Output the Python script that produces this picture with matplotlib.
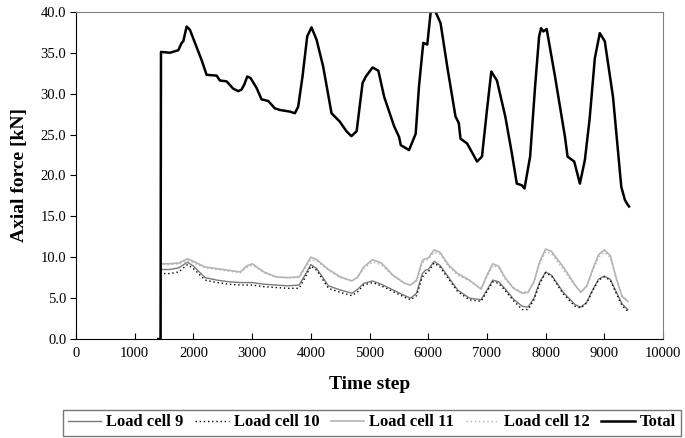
import matplotlib
matplotlib.use("Agg")
import matplotlib.pyplot as plt
from matplotlib.ticker import FormatStrFormatter

# Total axial force
total_x = [1400, 1440, 1447, 1600, 1742, 1799, 1827, 1884, 1940, 2026, 2139, 2224,
           2395, 2451, 2565, 2678, 2763, 2820, 2865, 2917, 2973, 3075, 3160, 3274,
           3387, 3472, 3643, 3728, 3784, 3858, 3938, 4011, 4097, 4210, 4352, 4490,
           4607, 4690, 4780, 4881, 4938, 5051, 5150, 5249, 5419, 5503, 5532, 5673,
           5786, 5842, 5915, 5983, 6040, 6100, 6210, 6330, 6464, 6520, 6549, 6662,
           6831, 6915, 7000, 7074, 7170, 7312, 7424, 7508, 7593, 7639, 7735, 7820,
           7888, 7922, 7960, 8017, 8159, 8329, 8373, 8486, 8583, 8668, 8750, 8837,
           8922, 9007, 9147, 9288, 9350, 9400, 9420]
total_y = [0, 0, 35.1, 35.0, 35.3, 36.2, 36.4, 38.2, 37.8, 36.2, 34.1, 32.3,
           32.2, 31.6, 31.5, 30.6, 30.3, 30.5, 31.1, 32.1, 31.9, 30.7, 29.3, 29.1,
           28.2, 28.0, 27.8, 27.6, 28.4, 32.1, 37.0, 38.1, 36.6, 33.3, 27.6, 26.6,
           25.4, 24.8, 25.4, 31.3, 32.1, 33.2, 32.8, 29.6, 26.0, 24.7, 23.7, 23.1,
           25.1, 30.9, 36.2, 36.0, 39.9, 40.4, 38.6, 33.0, 27.2, 26.4, 24.5, 23.9,
           21.7, 22.3, 28.0, 32.7, 31.6, 27.2, 22.7, 19.0, 18.8, 18.4, 22.3, 30.9,
           37.0, 38.0, 37.6, 37.9, 32.1, 24.7, 22.3, 21.7, 19.0, 21.9, 27.0, 34.3,
           37.4, 36.4, 29.6, 18.6, 17.0, 16.4, 16.2]

# Individual load cells
lc_x = [1400, 1440, 1447, 1600, 1750, 1900, 2000, 2200, 2400, 2600, 2800, 2900,
        3000, 3100, 3200, 3400, 3600, 3800, 3900, 4000, 4100, 4300, 4500, 4700,
        4800, 4900, 5050, 5200, 5400, 5600, 5700, 5800, 5900, 5950, 6000, 6100,
        6200, 6350, 6500, 6700, 6900, 7000, 7100, 7200, 7300, 7450, 7600, 7700,
        7800, 7900, 8000, 8100, 8300, 8500, 8600, 8700, 8800, 8900, 9000, 9100,
        9200, 9300, 9400]
lc9 = [0, 0, 8.5, 8.5, 8.7, 9.4, 8.9, 7.5, 7.2, 7.0, 6.9, 6.9,
       6.9, 6.8, 6.7, 6.6, 6.5, 6.6, 7.8, 9.1, 8.6, 6.5, 6.0, 5.6,
       6.1, 6.8, 7.1, 6.7, 6.0, 5.3, 5.0, 5.6, 8.0, 8.4, 8.5, 9.5,
       9.0, 7.5, 6.0, 5.0, 4.8, 6.0, 7.2, 7.0, 6.2, 4.9, 4.0, 3.9,
       5.0, 7.0, 8.2, 7.8, 5.7, 4.2, 3.9, 4.5, 6.0, 7.3, 7.7, 7.3,
       5.8, 4.3, 3.6]
lc10 = [0, 0, 8.0, 8.0, 8.2, 9.1, 8.6, 7.2, 6.9, 6.7, 6.6, 6.6,
        6.6, 6.5, 6.4, 6.3, 6.2, 6.2, 7.5, 8.9, 8.4, 6.2, 5.7, 5.3,
        5.8, 6.6, 6.9, 6.5, 5.8, 5.1, 4.8, 5.3, 7.6, 8.0, 8.2, 9.3,
        8.8, 7.3, 5.8, 4.8, 4.6, 5.8, 7.0, 6.8, 6.0, 4.7, 3.6, 3.6,
        4.8, 6.8, 8.1, 7.7, 5.5, 4.0, 3.8, 4.4, 5.9, 7.2, 7.6, 7.2,
        5.6, 4.1, 3.4]
lc11 = [0, 0, 9.2, 9.2, 9.3, 9.8, 9.5, 8.8, 8.6, 8.4, 8.2, 8.9,
        9.2, 8.7, 8.2, 7.6, 7.5, 7.6, 8.8, 10.0, 9.7, 8.5, 7.6, 7.1,
        7.6, 8.8, 9.7, 9.3, 7.8, 6.8, 6.6, 7.2, 9.6, 9.8, 9.9, 10.9,
        10.6, 9.0, 8.0, 7.2, 6.1, 7.8, 9.2, 8.9, 7.6, 6.2, 5.6, 5.7,
        7.0, 9.5, 11.0, 10.7, 8.8, 6.6, 5.7, 6.5, 8.5, 10.3, 10.9, 10.2,
        7.5, 5.2, 4.6]
lc12 = [0, 0, 9.1, 9.1, 9.2, 9.6, 9.3, 8.7, 8.5, 8.3, 8.1, 8.7,
        9.0, 8.6, 8.1, 7.6, 7.5, 7.5, 8.6, 9.7, 9.5, 8.4, 7.5, 7.1,
        7.5, 8.6, 9.4, 9.1, 7.7, 6.8, 6.6, 7.1, 9.3, 9.6, 9.7, 10.6,
        10.4, 8.8, 7.8, 7.1, 6.2, 7.6, 9.0, 8.7, 7.4, 6.3, 5.7, 5.8,
        6.9, 9.2, 10.7, 10.4, 8.5, 6.5, 5.8, 6.4, 8.3, 10.0, 10.6, 10.0,
        7.4, 5.3, 4.8]

plt.rcParams["font.family"] = ["Liberation Serif", "DejaVu Serif"]

fig = plt.figure(figsize=(6.85, 4.38), dpi=100)
ax = fig.add_axes([0.111, 0.226, 0.857, 0.747])

ax.plot(lc_x, lc9, color="#7a7a7a", lw=1.0, label="Load cell 9")
ax.plot(lc_x, lc10, color="black", lw=1.0, ls=(0, (1, 2)), label="Load cell 10")
ax.plot(lc_x, lc11, color="#b4b4b4", lw=1.2, label="Load cell 11")
ax.plot(lc_x, lc12, color="#b4b4b4", lw=1.0, ls=(0, (1, 2)), label="Load cell 12")
ax.plot(total_x, total_y, color="black", lw=1.8, label="Total")

ax.set_xlim(0, 10000)
ax.set_ylim(0, 40)
ax.set_xticks(range(0, 10001, 1000))
ax.set_yticks([0, 5, 10, 15, 20, 25, 30, 35, 40])
ax.yaxis.set_major_formatter(FormatStrFormatter("%.1f"))
ax.tick_params(axis="x", direction="in", length=4, labelsize=10.5, pad=6)
ax.tick_params(axis="y", direction="out", length=4, labelsize=10.5, pad=3)
for side in ["top", "right"]:
    ax.spines[side].set_color("#808080")
for side in ["left", "bottom"]:
    ax.spines[side].set_color("black")

ax.set_xlabel("Time step", fontsize=14, fontweight="bold", labelpad=11)
ax.set_ylabel("Axial force [kN]", fontsize=14, fontweight="bold", labelpad=9)

leg = fig.legend(loc="lower center", bbox_to_anchor=(0.543, 0.0), ncol=5,
                 frameon=True, fancybox=False, edgecolor="#555555",
                 prop={"weight": "bold", "size": 12}, handlelength=2.0,
                 handletextpad=0.3, columnspacing=0.7, borderpad=0.3,
                 borderaxespad=0.15)
leg.get_frame().set_linewidth(1.0)

fig.savefig("out.png", dpi=100)
